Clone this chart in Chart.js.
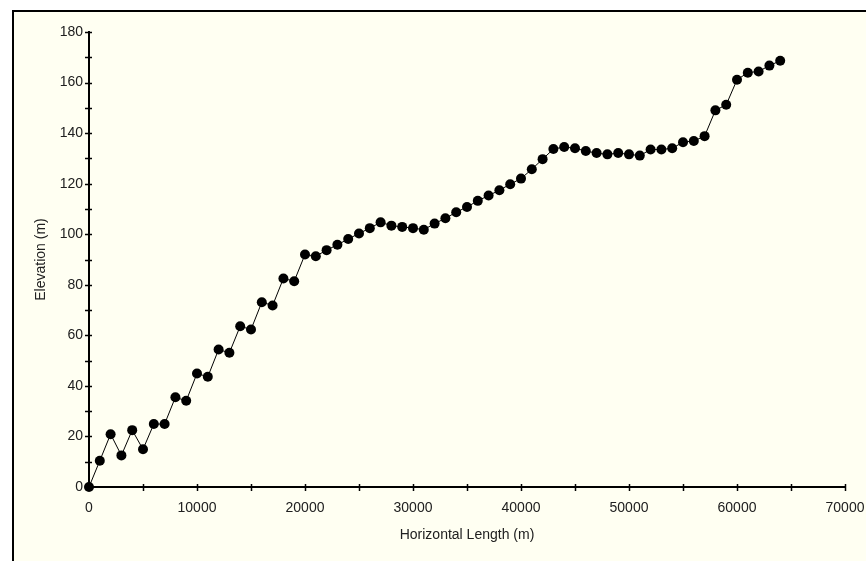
<!DOCTYPE html>
<html>
<head>
<meta charset="utf-8">
<script src="https://cdn.jsdelivr.net/npm/chart.js@4/dist/chart.umd.min.js"></script>
<style>
  html, body { margin: 0; padding: 0; background: #ffffff; overflow: hidden; }
  #frame {
    position: absolute; left: 12px; top: 10px;
    width: 854px; height: 551px;
    border-left: 2px solid #000; border-top: 2px solid #000;
    background: #fffff2;
  }
  #chartBox { position: relative; width: 852px; height: 549px; }
</style>
</head>
<body>
<div id="frame"><div id="chartBox"><canvas id="myChart"></canvas></div></div>
<script>
  // horizontal positions of the survey points (m)
  const lengths = [
    0, 1000, 2000, 3000, 4000, 5000, 6000, 7000, 8000, 9000,
    10000, 11000, 12000, 13000, 14000, 15000, 16000, 17000, 18000, 19000,
    20000, 21000, 22000, 23000, 24000, 25000, 26000, 27000, 28000, 29000,
    30000, 31000, 32000, 33000, 34000, 35000, 36000, 37000, 38000, 39000,
    40000, 41000, 42000, 43000, 44000, 45000, 46000, 47000, 48000, 49000,
    50000, 51000, 52000, 53000, 54000, 55000, 56000, 57000, 58000, 59000,
    60000, 61000, 62000, 63000, 64000
  ];
  // elevation at each point (m)
  const elevations = [
    0, 10.4, 20.9, 12.5, 22.5, 14.9, 24.9, 24.9, 35.5, 34.1,
    44.9, 43.6, 54.4, 53.1, 63.6, 62.3, 73.1, 71.8, 82.5, 81.4,
    92.0, 91.3, 93.7, 95.8, 98.1, 100.3, 102.4, 104.7, 103.4, 102.9,
    102.4, 101.8, 104.2, 106.3, 108.7, 110.8, 113.2, 115.3, 117.4, 119.8,
    122.0, 125.7, 129.7, 133.7, 134.5, 134.0, 132.9, 132.1, 131.6, 132.1,
    131.6, 131.1, 133.5, 133.5, 134.0, 136.4, 136.9, 138.8, 149.0, 151.2,
    161.1, 163.9, 164.4, 166.7, 168.6
  ];

  const xMin = 0, xMax = 70000, xStep = 5000, xLabelEvery = 10000;
  const yMin = 0, yMax = 180, yStep = 10, yLabelEvery = 20;

  const points = lengths.map((x, i) => ({ x: x, y: elevations[i] }));

  // ticks that cross the axis line (both sides), as in the original
  const crossTicks = {
    id: 'crossTicks',
    afterDraw(chart) {
      const c = chart.ctx;
      const xs = chart.scales.x, ys = chart.scales.y;
      const area = chart.chartArea;
      c.save();
      c.strokeStyle = '#000';
      c.lineWidth = 1.5;
      c.beginPath();
      xs.ticks.forEach(t => {
        const px = Math.round(xs.getPixelForValue(t.value)) + 0.5;
        c.moveTo(px, area.bottom - 3);
        c.lineTo(px, area.bottom + 4);
      });
      ys.ticks.forEach(t => {
        const py = Math.round(ys.getPixelForValue(t.value)) + 0.5;
        c.moveTo(area.left - 4, py);
        c.lineTo(area.left + 3, py);
      });
      c.stroke();
      c.restore();
    }
  };

  const tickFont = { family: 'Liberation Sans, Arial, sans-serif', size: 14 };

  const ctx = document.getElementById('myChart').getContext('2d');
  const myChart = new Chart(ctx, {
    type: 'line',
    data: {
      datasets: [{
        label: 'Elevation',
        data: points,
        borderColor: '#000',
        borderWidth: 1,
        backgroundColor: '#000',
        pointBackgroundColor: '#000',
        pointBorderColor: '#000',
        pointRadius: 5,
        pointBorderWidth: 0,
        tension: 0,
        clip: false
      }]
    },
    options: {
      responsive: true,
      maintainAspectRatio: false,
      animation: false,
      layout: { padding: { top: 20, right: 21, left: 0, bottom: 0 } },
      plugins: {
        legend: { display: false },
        tooltip: { enabled: false }
      },
      scales: {
        x: {
          type: 'linear',
          min: xMin,
          max: xMax,
          afterFit: function(scale) {
            scale.height = 74;
            scale.paddingLeft = 0;
            scale.paddingRight = 0;
          },
          grid: { display: false, drawTicks: false },
          border: { display: true, color: '#000', width: 2 },
          ticks: {
            stepSize: xStep,
            autoSkip: false,
            maxRotation: 0,
            padding: 13,
            color: '#202020',
            font: tickFont,
            callback: v => (v % xLabelEvery === 0 ? String(v) : '')
          },
          title: {
            display: true,
            text: 'Horizontal Length (m)',
            color: '#202020',
            font: tickFont,
            padding: { top: 0, bottom: 17 }
          }
        },
        y: {
          type: 'linear',
          min: yMin,
          max: yMax,
          afterFit: function(scale) {
            scale.width = 75;
            scale.paddingTop = 0;
            scale.paddingBottom = 0;
          },
          grid: { display: false, drawTicks: false },
          border: { display: true, color: '#000', width: 2 },
          ticks: {
            stepSize: yStep,
            autoSkip: false,
            padding: 6,
            color: '#202020',
            font: tickFont,
            callback: v => (v % yLabelEvery === 0 ? String(v) : '')
          },
          title: {
            display: true,
            text: 'Elevation (m)',
            color: '#202020',
            font: tickFont,
            padding: { top: 19, bottom: 0 }
          }
        }
      }
    },
    plugins: [crossTicks]
  });
</script>
</body>
</html>
